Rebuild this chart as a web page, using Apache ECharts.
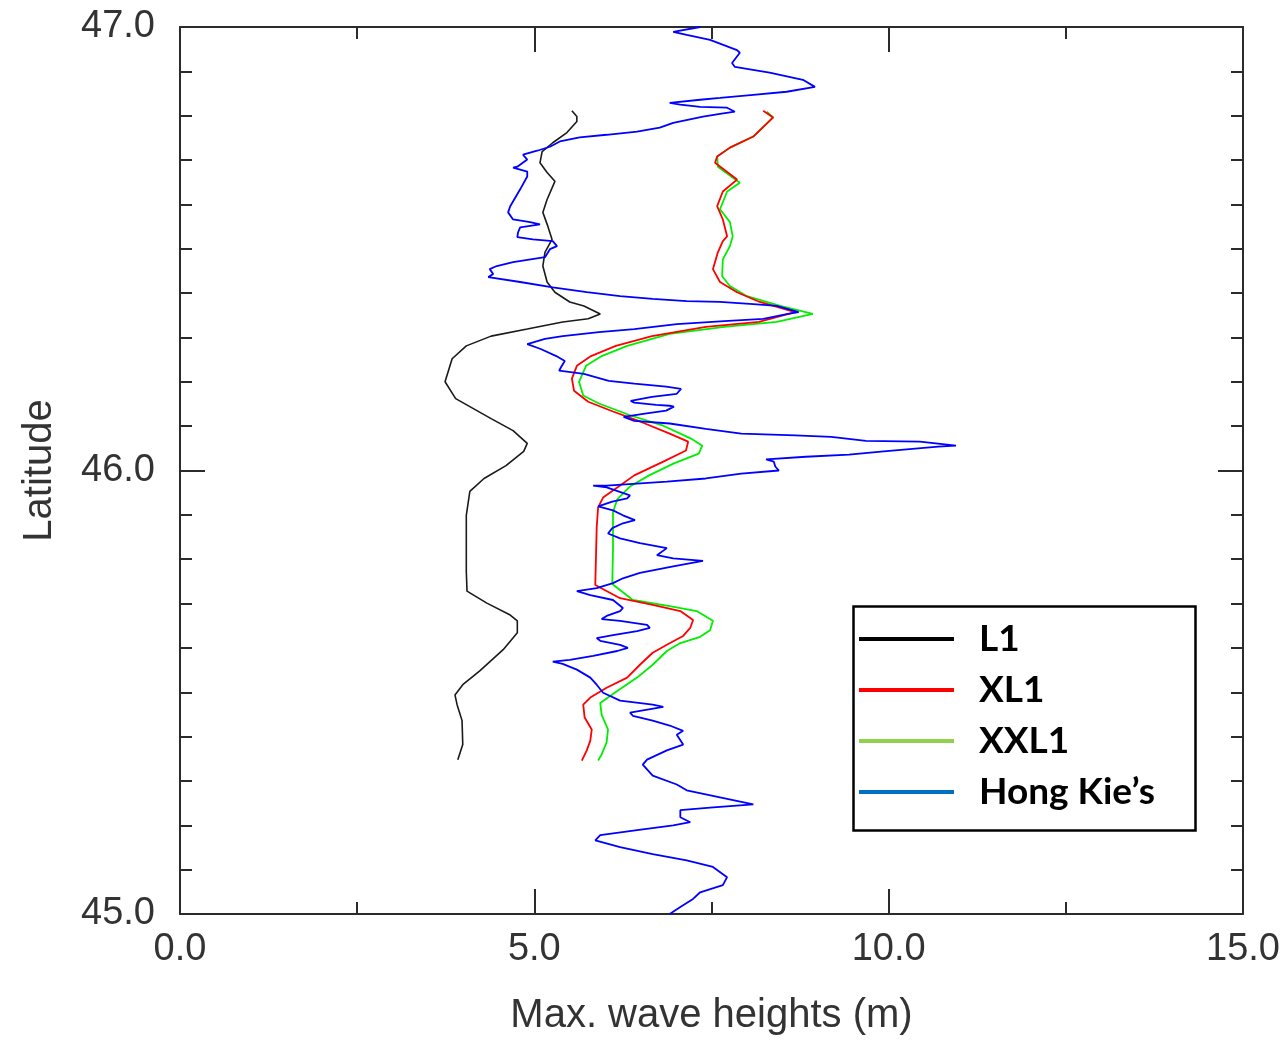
<!DOCTYPE html>
<html>
<head>
<meta charset="utf-8">
<script src="https://cdn.jsdelivr.net/npm/echarts@6/dist/echarts.min.js"></script>
<style>
  html, body { margin: 0; padding: 0; background: #fff; }
  #chart { width: 1284px; height: 1041px; }
</style>
</head>
<body>
<div id="chart"></div>
<script>
// [max wave height (m), latitude]
const l1Points = [[5.53,46.811],[5.60,46.798],[5.60,46.787],[5.46,46.762],[5.26,46.739],[5.11,46.719],[5.08,46.694],[5.18,46.672],[5.29,46.652],[5.18,46.611],[5.12,46.582],[5.19,46.551],[5.25,46.521],[5.15,46.492],[5.12,46.461],[5.18,46.425],[5.29,46.402],[5.50,46.380],[5.70,46.371],[5.93,46.353],[5.76,46.342],[5.40,46.335],[4.90,46.319],[4.39,46.303],[4.04,46.281],[3.84,46.252],[3.74,46.200],[3.89,46.162],[4.09,46.144],[4.39,46.117],[4.70,46.090],[4.90,46.061],[4.85,46.043],[4.60,46.011],[4.29,45.982],[4.09,45.953],[4.04,45.899],[4.04,45.825],[4.04,45.773],[4.05,45.728],[4.33,45.701],[4.66,45.674],[4.76,45.661],[4.76,45.634],[4.56,45.596],[4.23,45.548],[3.99,45.517],[3.88,45.494],[3.91,45.472],[3.98,45.436],[3.99,45.382],[3.92,45.348]];

const xl1Points = [[8.23,46.811],[8.37,46.796],[8.09,46.753],[7.76,46.728],[7.58,46.708],[7.55,46.694],[7.86,46.656],[7.66,46.629],[7.58,46.596],[7.66,46.566],[7.72,46.528],[7.66,46.517],[7.59,46.492],[7.52,46.454],[7.62,46.425],[7.86,46.402],[8.18,46.380],[8.68,46.357],[8.17,46.335],[7.42,46.324],[6.66,46.303],[6.15,46.281],[5.80,46.258],[5.60,46.236],[5.53,46.207],[5.56,46.180],[5.76,46.155],[6.11,46.133],[6.50,46.110],[6.91,46.083],[7.17,46.065],[7.14,46.045],[6.82,46.020],[6.41,45.989],[6.21,45.966],[5.97,45.939],[5.90,45.917],[5.88,45.872],[5.86,45.742],[6.21,45.712],[6.67,45.697],[7.06,45.683],[7.24,45.663],[7.20,45.645],[7.10,45.627],[6.87,45.607],[6.67,45.589],[6.49,45.562],[6.31,45.533],[6.02,45.510],[5.79,45.488],[5.69,45.472],[5.71,45.443],[5.81,45.416],[5.79,45.391],[5.74,45.369],[5.67,45.346]];

const xxl1Points = [[8.28,46.809],[8.37,46.796],[8.09,46.753],[7.76,46.728],[7.58,46.708],[7.59,46.685],[7.90,46.649],[7.72,46.629],[7.62,46.589],[7.76,46.560],[7.80,46.528],[7.76,46.506],[7.66,46.476],[7.65,46.438],[7.76,46.416],[8.00,46.393],[8.47,46.371],[8.93,46.353],[8.42,46.335],[7.68,46.324],[6.91,46.308],[6.31,46.281],[5.95,46.258],[5.73,46.236],[5.63,46.200],[5.69,46.169],[5.91,46.151],[6.36,46.124],[6.82,46.101],[7.21,46.072],[7.37,46.056],[7.32,46.038],[6.97,46.016],[6.62,45.989],[6.35,45.964],[6.17,45.935],[6.11,45.906],[6.11,45.825],[6.10,45.744],[6.39,45.708],[6.91,45.694],[7.29,45.683],[7.52,45.661],[7.48,45.640],[7.34,45.625],[7.06,45.611],[6.87,45.593],[6.67,45.562],[6.45,45.533],[6.17,45.503],[5.93,45.476],[5.95,45.449],[6.04,45.416],[6.02,45.387],[5.95,45.360],[5.90,45.346]];

const hongKiePoints = [[7.34,47.000],[6.96,46.989],[7.15,46.982],[7.48,46.971],[7.86,46.948],[7.90,46.942],[7.79,46.919],[7.83,46.910],[8.32,46.897],[8.79,46.881],[8.96,46.865],[8.56,46.854],[8.09,46.847],[7.62,46.840],[7.34,46.836],[6.91,46.829],[7.06,46.825],[7.34,46.820],[7.72,46.818],[7.83,46.809],[7.62,46.804],[7.38,46.798],[6.96,46.784],[6.77,46.773],[6.45,46.764],[6.02,46.757],[5.64,46.751],[5.36,46.742],[5.22,46.730],[5.04,46.721],[4.84,46.712],[4.83,46.708],[4.90,46.701],[4.76,46.685],[4.70,46.683],[4.90,46.674],[4.90,46.663],[4.80,46.634],[4.66,46.596],[4.63,46.582],[4.70,46.566],[4.94,46.560],[5.08,46.555],[4.80,46.548],[4.77,46.537],[4.76,46.526],[4.98,46.521],[5.26,46.517],[5.32,46.506],[5.22,46.499],[5.15,46.481],[4.70,46.470],[4.47,46.461],[4.37,46.454],[4.42,46.443],[4.35,46.436],[4.80,46.425],[5.26,46.413],[5.74,46.402],[6.21,46.393],[6.67,46.387],[7.15,46.382],[7.62,46.380],[8.09,46.375],[8.42,46.371],[8.73,46.357],[8.58,46.353],[8.23,46.342],[7.68,46.337],[7.01,46.330],[6.41,46.319],[5.91,46.312],[5.40,46.303],[5.15,46.297],[4.90,46.285],[5.09,46.274],[5.31,46.258],[5.43,46.247],[5.38,46.234],[5.35,46.225],[5.70,46.218],[6.05,46.202],[6.41,46.196],[6.86,46.189],[7.07,46.184],[7.01,46.173],[6.66,46.166],[6.36,46.157],[6.41,46.153],[6.72,46.148],[6.91,46.146],[6.97,46.144],[6.86,46.135],[6.56,46.128],[6.26,46.121],[6.41,46.112],[6.91,46.106],[7.42,46.094],[7.92,46.083],[8.68,46.079],[9.19,46.076],[9.68,46.067],[10.44,46.065],[10.95,46.056],[10.70,46.054],[9.93,46.043],[9.44,46.036],[8.83,46.031],[8.27,46.025],[8.38,46.020],[8.40,46.009],[8.45,46.000],[7.92,45.993],[7.42,45.982],[6.87,45.975],[6.02,45.966],[5.83,45.966],[6.02,45.962],[6.35,45.944],[6.31,45.937],[6.10,45.930],[5.90,45.919],[6.11,45.910],[6.25,45.899],[6.42,45.888],[6.25,45.881],[6.10,45.870],[6.04,45.858],[6.21,45.847],[6.49,45.836],[6.87,45.825],[6.73,45.809],[6.96,45.802],[7.38,45.796],[6.96,45.784],[6.49,45.769],[6.25,45.757],[6.11,45.746],[5.88,45.735],[5.60,45.728],[5.79,45.719],[6.11,45.708],[6.25,45.690],[6.21,45.683],[6.02,45.672],[5.95,45.665],[6.21,45.661],[6.59,45.652],[6.63,45.645],[6.45,45.638],[6.11,45.629],[5.88,45.622],[5.93,45.616],[6.21,45.607],[6.32,45.600],[6.17,45.593],[5.83,45.582],[5.50,45.573],[5.26,45.569],[5.40,45.564],[5.60,45.551],[5.79,45.533],[5.88,45.517],[5.97,45.499],[6.21,45.481],[6.67,45.472],[6.82,45.467],[6.35,45.454],[6.39,45.447],[6.67,45.436],[6.91,45.425],[7.10,45.413],[7.01,45.404],[7.10,45.382],[6.87,45.369],[6.59,45.348],[6.53,45.337],[6.67,45.312],[7.01,45.292],[7.15,45.279],[7.62,45.263],[8.09,45.247],[7.48,45.240],[7.06,45.234],[7.06,45.218],[7.20,45.207],[6.96,45.200],[6.45,45.189],[5.93,45.178],[5.86,45.166],[6.21,45.151],[6.67,45.135],[7.15,45.121],[7.52,45.106],[7.72,45.083],[7.66,45.065],[7.34,45.049],[7.24,45.034],[7.06,45.016],[6.91,45.000]];

const seriesNames = ['L1', 'XL1', 'XXL1', 'Hong Kie\u2019s'];
const xLabels = ['0.0', '5.0', '10.0', '15.0'];
const yLabels = ['45.0', '46.0', '47.0'];

const axisColor = '#2b2b2b';
const tickFont = { fontFamily: 'Liberation Sans, Arial, sans-serif', fontSize: 38, color: '#333' };

function xAxisCfg(pos, showLabel) {
  return {
    type: 'value', position: pos, min: 0, max: 15, interval: 5,
    axisLine: { show: true, onZero: false, lineStyle: { color: axisColor, width: 2 } },
    axisTick: { show: true, inside: true, length: 25, lineStyle: { color: axisColor, width: 2 } },
    minorTick: { show: true, splitNumber: 2, length: 12, lineStyle: { color: axisColor, width: 2 } },
    splitLine: { show: false }, minorSplitLine: { show: false },
    axisLabel: Object.assign({ show: showLabel, margin: 17,
      formatter: v => xLabels[Math.round(v / 5)] }, tickFont)
  };
}
function yAxisCfg(pos, showLabel) {
  return {
    type: 'value', position: pos, min: 45, max: 47, interval: 1,
    axisLine: { show: true, onZero: false, lineStyle: { color: axisColor, width: 2 } },
    axisTick: { show: true, inside: true, length: 25, lineStyle: { color: axisColor, width: 2 } },
    minorTick: { show: true, splitNumber: 10, length: 12, lineStyle: { color: axisColor, width: 2 } },
    splitLine: { show: false }, minorSplitLine: { show: false },
    axisLabel: Object.assign({ show: showLabel, margin: 25,
      formatter: v => yLabels[Math.round(v - 45)] }, tickFont)
  };
}

const xBottom = xAxisCfg('bottom', true);
xBottom.name = 'Max. wave heights (m)';
xBottom.nameLocation = 'middle';
xBottom.nameGap = 82;
xBottom.nameTextStyle = { fontFamily: 'Liberation Sans, Arial, sans-serif', fontSize: 40, color: '#333' };
const yLeft = yAxisCfg('left', true);
yLeft.name = 'Latitude';
yLeft.nameLocation = 'middle';
yLeft.nameGap = 120;
yLeft.nameTextStyle = { fontFamily: 'Liberation Sans, Arial, sans-serif', fontSize: 40, color: '#333' };

function lineSeries(name, data, color, width, z) {
  return {
    name, type: 'line', data, xAxisIndex: 0, yAxisIndex: 0,
    symbol: 'none', showSymbol: false, z,
    lineStyle: { color, width }, itemStyle: { color },
    emphasis: { disabled: true }
  };
}

const chart = echarts.init(document.getElementById('chart'), null, { renderer: 'canvas' });
chart.setOption({
  animation: false,
  backgroundColor: '#ffffff',
  grid: { left: 180, top: 27, right: 41, bottom: 124, containLabel: false },
  xAxis: [xBottom, xAxisCfg('top', false)],
  yAxis: [yLeft, yAxisCfg('right', false)],
  legend: {
    orient: 'vertical', left: 859, top: 619, padding: 0,
    icon: 'rect', itemWidth: 95, itemHeight: 4, itemGap: 11,
    selectedMode: false,
    textStyle: { fontFamily: 'Lato, "Open Sans", sans-serif', fontWeight: 'bold', fontSize: 37,
                 color: '#000', lineHeight: 40, padding: [0, 0, 0, 20] },
    data: [
      { name: seriesNames[0], itemStyle: { color: '#000000' } },
      { name: seriesNames[1], itemStyle: { color: '#ff0000' } },
      { name: seriesNames[2], itemStyle: { color: '#92d050' } },
      { name: seriesNames[3], itemStyle: { color: '#0070c0' } }
    ]
  },
  graphic: [{
    type: 'rect', left: 851, top: 604, z: 100,
    shape: { width: 342, height: 224 },
    style: { fill: 'none', stroke: '#000', lineWidth: 2.5 }
  }],
  series: [
    lineSeries(seriesNames[0], l1Points, '#1a1a1a', 1.6, 2),
    lineSeries(seriesNames[2], xxl1Points, '#00ee00', 1.8, 3),
    lineSeries(seriesNames[1], xl1Points, '#ff0000', 1.8, 4),
    lineSeries(seriesNames[3], hongKiePoints, '#0000ff', 1.8, 5)
  ]
});
</script>
</body>
</html>
